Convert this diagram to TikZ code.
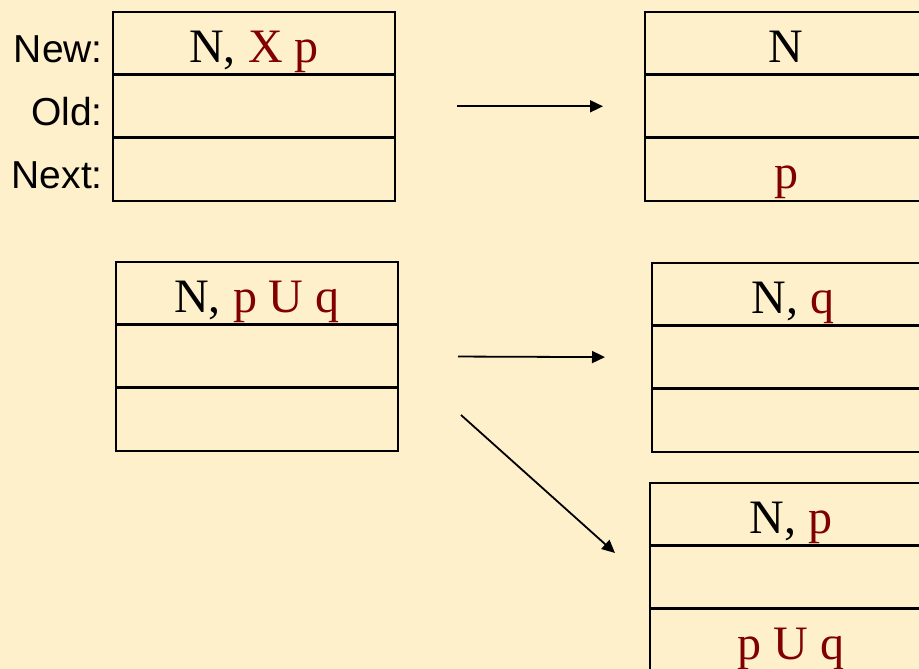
\documentclass[tikz,border=0pt]{standalone}
\usepackage{fontspec}
\setmainfont{Liberation Serif}
\setsansfont{Liberation Sans}
\usetikzlibrary{positioning,arrows.meta}

\definecolor{paper}{RGB}{255,240,204}
\definecolor{formula}{RGB}{128,0,0}

\begin{document}
\begin{tikzpicture}[x=1pt,y=-1pt]

%styles des cases et des fleches
\tikzset{
    cell/.style={draw, line width=2pt, minimum width=282pt, minimum height=62.2pt,
        inner sep=0pt, outer sep=0pt, text height=38pt, text depth=0pt,
        font=\fontsize{48}{48}\selectfont},
    field/.style={anchor=east, inner sep=0pt, text height=38pt, text depth=0pt,
        font=\sffamily\fontsize{39}{39}\selectfont},
    trans/.style={-{Triangle[length=13pt,width=12pt]}, line width=1.8pt}
}

\fill[paper] (0,0) rectangle (919,669);
\clip (0,0) rectangle (919,669);

%noeud X p
\node[cell, anchor=north west] (a1) at (113,12) {N, \textcolor{formula}{X p}};
\node[cell, below=1pt of a1] (a2) {};
\node[cell, below=1pt of a2] (a3) {};
\node[field, left=10pt of a1] (new) {New:};
\node[field, left=10pt of a2] (old) {Old:};
\node[field, left=10pt of a3] (next) {Next:};

\node[cell, anchor=north west] (b1) at (645,12) {N};
\node[cell, below=1pt of b1] (b2) {};
\node[cell, below=1pt of b2] (b3) {\textcolor{formula}{p}};

\draw[trans, shorten <=62pt, shorten >=42pt] (a2.east) -- (b2.west);

%noeud p U q
\node[cell, anchor=north west] (c1) at (116,262) {N, \textcolor{formula}{p U q}};
\node[cell, below=1pt of c1] (c2) {};
\node[cell, below=1pt of c2] (c3) {};

\node[cell, anchor=north west] (d1) at (652,263) {N, \textcolor{formula}{q}};
\node[cell, below=1pt of d1] (d2) {};
\node[cell, below=1pt of d2] (d3) {};

\node[cell, anchor=north west] (e1) at (650,483) {N, \textcolor{formula}{p}};
\node[cell, below=1pt of e1] (e2) {};
\node[cell, below=1pt of e2] (e3) {\textcolor{formula}{p U q}};

\draw[trans, shorten <=60pt, shorten >=47pt] (c2.east) -- (d2.west);
\coordinate (split) at (461,415);
\coordinate (into) at (615,553);
\draw[trans] (split) -- (into);

\end{tikzpicture}
\end{document}
